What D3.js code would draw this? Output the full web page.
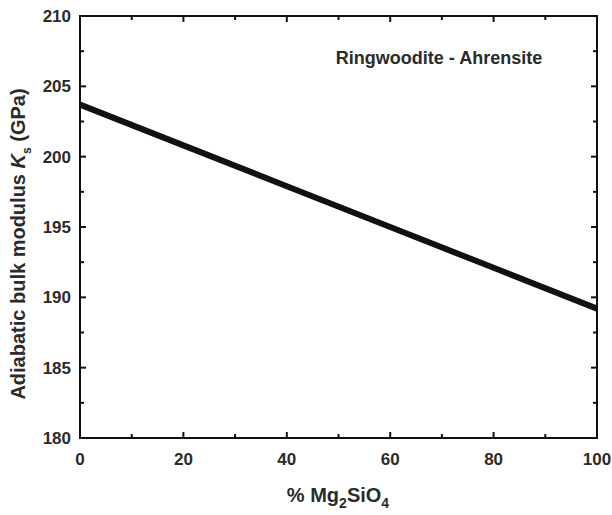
<!doctype html>
<html>
<head>
<style>
  body { margin: 0; background: #fff; }
  text { font-family: "Liberation Sans", Arial, sans-serif; font-weight: bold; fill: #2b2b2b; }
</style>
<script src="https://d3js.org/d3.v7.min.js"></script>
</head>
<body>
<svg id="chart" width="612" height="515"></svg>
<script>
// data
var mgPercent = [0, 20, 40, 60, 80, 100];
var ksValues = [203.7, 200.8, 197.9, 195.0, 192.1, 189.2];
var xTicks = [0, 20, 40, 60, 80, 100];
var yTicks = [180, 185, 190, 195, 200, 205, 210];

var svg = d3.select("#chart");
var plotL = 80, plotR = 597, plotT = 16, plotB = 438;

var x = d3.scaleLinear().domain([0, 100]).range([plotL, plotR]);
var y = d3.scaleLinear().domain([180, 210]).range([plotB, plotT]);

var xMinor = d3.range(10, 100, 20);
var yMinor = d3.range(182.5, 210, 5);

// frame
svg.append("rect")
   .attr("x", plotL).attr("y", plotT)
   .attr("width", plotR - plotL).attr("height", plotB - plotT)
   .attr("fill", "none").attr("stroke", "#111").attr("stroke-width", 2);

// ticks, all pointing inward, on all four sides
function tick(x1, y1, x2, y2) {
  svg.append("line").attr("x1", x1).attr("y1", y1).attr("x2", x2).attr("y2", y2)
     .attr("stroke", "#111").attr("stroke-width", 2);
}
xTicks.forEach(function(d) { tick(x(d), plotB, x(d), plotB - 6); tick(x(d), plotT, x(d), plotT + 6); });
xMinor.forEach(function(d) { tick(x(d), plotB, x(d), plotB - 4); tick(x(d), plotT, x(d), plotT + 4); });
yTicks.forEach(function(d) { tick(plotL, y(d), plotL + 6, y(d)); tick(plotR, y(d), plotR - 6, y(d)); });
yMinor.forEach(function(d) { tick(plotL, y(d), plotL + 4, y(d)); tick(plotR, y(d), plotR - 4, y(d)); });

// tick labels
svg.selectAll(".xl").data(xTicks).enter().append("text")
   .attr("x", function(d) { return x(d); })
   .attr("y", 465)
   .attr("text-anchor", "middle")
   .attr("font-size", "17px")
   .text(function(d) { return d; });

svg.selectAll(".yl").data(yTicks).enter().append("text")
   .attr("x", 71)
   .attr("y", function(d) { return y(d) + 6; })
   .attr("text-anchor", "end")
   .attr("font-size", "17px")
   .text(function(d) { return d; });

// the line
var line = d3.line()
   .x(function(d, i) { return x(mgPercent[i]); })
   .y(function(d) { return y(d); });

svg.append("path")
   .datum(ksValues)
   .attr("d", line)
   .attr("fill", "none")
   .attr("stroke", "#111")
   .attr("stroke-width", 6);

// annotation
svg.append("text")
   .attr("x", 439).attr("y", 64)
   .attr("text-anchor", "middle")
   .attr("font-size", "18px")
   .text("Ringwoodite - Ahrensite");

// x axis title
var xt = svg.append("text")
   .attr("x", 338).attr("y", 502)
   .attr("text-anchor", "middle")
   .attr("font-size", "20px");
xt.append("tspan").text("% Mg");
xt.append("tspan").attr("dy", 6).attr("font-size", "14px").text("2");
xt.append("tspan").attr("dy", -6).text("SiO");
xt.append("tspan").attr("dy", 6).attr("font-size", "14px").text("4");

// y axis title
var yt = svg.append("text")
   .attr("transform", "translate(25," + 244 + ") rotate(-90)")
   .attr("text-anchor", "middle")
   .attr("font-size", "20px");
yt.append("tspan").text("Adiabatic bulk modulus ");
yt.append("tspan").attr("font-style", "italic").text("K");
yt.append("tspan").attr("dy", 6).attr("font-size", "12px").text("s");
yt.append("tspan").attr("dy", -6).text(" (GPa)");
</script>
</body>
</html>
